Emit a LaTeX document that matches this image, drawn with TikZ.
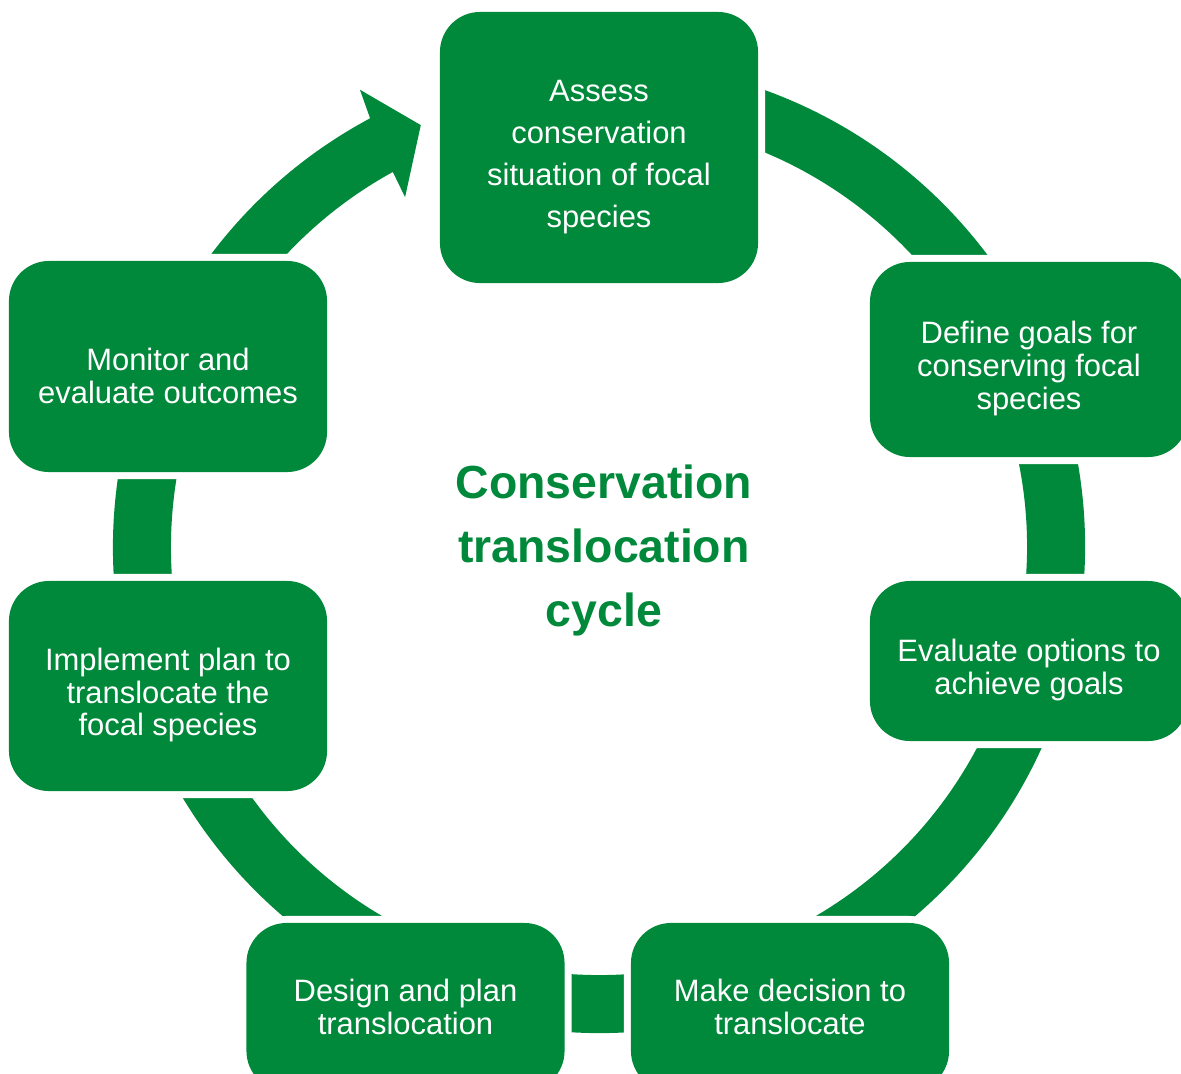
\documentclass[tikz,border=0pt]{standalone}
\usepackage{fontspec}
\setmainfont{Liberation Sans}
\usepackage{tikz}
\usetikzlibrary{positioning}
\definecolor{cyclegreen}{RGB}{0,137,58}
\newcommand{\stagestrut}{\rule{0pt}{28.8pt}}

\begin{document}
\begin{tikzpicture}[
    x=0.025cm, y=0.025cm,
    stage/.style={fill=cyclegreen, rounded corners=1cm, minimum width=7.95cm, text=white, align=center, font=\fontsize{22}{23.4}\selectfont, preaction={draw=white, line width=0.35cm}},
    ring/.style={fill=cyclegreen}
]
    \useasboundingbox (0,0) rectangle (1181,-1073);

    % Ring with arrow head
    \begin{scope}[shift={(599,-547)}]
        \fill[ring] (80:486) arc[start angle=80, end angle=-241.9, radius=486]
            -- (117.6:516) -- (112.9:458) -- (119:400) -- (118.8:428)
            arc[start angle=-241.2, end angle=80, radius=428] -- cycle;
    \end{scope}

    % Nodes - stages of the cycle
    \node[stage, minimum height=6.775cm, font=\fontsize{22}{29.8}\selectfont] (assess) at (599,-147.5) {\stagestrut Assess\\conservation\\situation of focal\\species};
    \node[stage, minimum height=4.875cm] (goals) at (1029,-359.5) {\stagestrut Define goals for\\conserving focal\\species};
    \node[stage, minimum height=4cm] (options) at (1029,-661) {\stagestrut Evaluate options to\\achieve goals};
    \node[stage, minimum height=4.2cm] (decision) at (790,-1007) {Make decision to\\translocate};
    \node[stage, minimum height=4.2cm] (design) at (405.5,-1007) {Design and plan\\translocation};
    \node[stage, minimum height=5.25cm] (implement) at (168,-686) {\stagestrut Implement plan to\\translocate the\\focal species};
    \node[stage, minimum height=5.275cm] (monitor) at (168,-366.5) {\stagestrut Monitor and\\evaluate outcomes};

    % Title
    \node[font=\fontsize{33}{45.4}\selectfont\bfseries, text=cyclegreen, align=center] (title) at (604,-550.5) {Conservation\\translocation\\cycle};
\end{tikzpicture}
\end{document}
